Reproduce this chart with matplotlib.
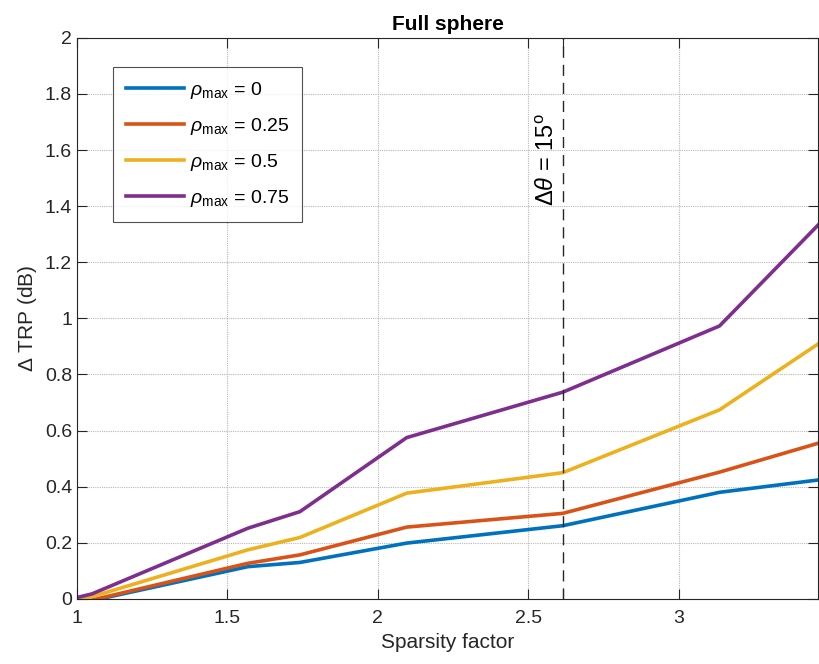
import matplotlib
matplotlib.use('Agg')
import matplotlib.pyplot as plt

plt.rcParams['font.family'] = ['Liberation Sans', 'DejaVu Sans']
plt.rcParams['mathtext.fontset'] = 'custom'
plt.rcParams['mathtext.rm'] = 'Liberation Sans'
plt.rcParams['mathtext.it'] = 'Liberation Sans:italic'

# data
sparsity = [1.0, 1.05, 1.568, 1.741, 2.096, 2.615, 3.136, 3.464]
trp_rho0 = [-0.03, -0.006, 0.115, 0.130, 0.199, 0.261, 0.380, 0.424]
trp_rho025 = [-0.03, -0.004, 0.127, 0.157, 0.256, 0.305, 0.452, 0.555]
trp_rho05 = [-0.003, 0.008, 0.175, 0.219, 0.377, 0.450, 0.674, 0.909]
trp_rho075 = [0.005, 0.018, 0.252, 0.311, 0.575, 0.737, 0.973, 1.333]
rho_labels = ['0', '0.25', '0.5', '0.75']
dtheta_x = 2.615

COLORS = ['#0072BD', '#D95319', '#EDB120', '#7E2F8E']

fig = plt.figure(figsize=(8.19, 6.64), dpi=100)
ax = fig.add_axes([0.094, 0.098, 0.905, 0.845])

series = [trp_rho0, trp_rho025, trp_rho05, trp_rho075]
for ys, lab, col in zip(series, rho_labels, COLORS):
    ax.plot(sparsity, ys, color=col, lw=2.6,
            label=r'$\rho_{\mathrm{max}}$ = ' + lab)

ax.axvline(dtheta_x, color='#262626', lw=1.0, ls=(0, (8, 5)))
ax.text(dtheta_x - 0.012, 1.565, r'$\Delta\theta$ = 15$^{\mathrm{o}}$',
        rotation=90, ha='right', va='center', fontsize=17)

ax.set_xlim(1, 3.464)
ax.set_ylim(0, 2)
ax.set_xticks([1, 1.5, 2, 2.5, 3])
ax.set_xticklabels(['1', '1.5', '2', '2.5', '3'])
ax.set_xticks([dtheta_x], minor=True)
ax.set_yticks([0, 0.2, 0.4, 0.6, 0.8, 1, 1.2, 1.4, 1.6, 1.8, 2])
ax.set_yticklabels(['0', '0.2', '0.4', '0.6', '0.8', '1', '1.2', '1.4',
                    '1.6', '1.8', '2'])
ax.tick_params(which='both', direction='in', top=True, right=True,
               labelsize=14, length=7, width=0.8, colors='#262626')
ax.tick_params(axis='x', pad=8)
ax.grid(True, which='major', color='#b8b8b8', lw=0.8, ls=(0, (1, 1)))
for s in ax.spines.values():
    s.set_color('#262626')
    s.set_linewidth(0.8)

ax.set_xlabel('Sparsity factor', fontsize=15, color='#262626')
ax.set_ylabel(r'$\Delta$ TRP (dB)', fontsize=15, color='#262626')
ax.set_title('Full sphere', fontsize=15, weight='bold', pad=6)

leg = ax.legend(loc='upper left', bbox_to_anchor=(0.0486, 0.948), fontsize=14,
                frameon=True, fancybox=False, handlelength=3.0,
                borderpad=0.65, labelspacing=0.78, handletextpad=0.3,
                borderaxespad=0)
leg.get_frame().set_edgecolor('#262626')
leg.get_frame().set_linewidth(0.8)

fig.savefig('out.png', dpi=100)
